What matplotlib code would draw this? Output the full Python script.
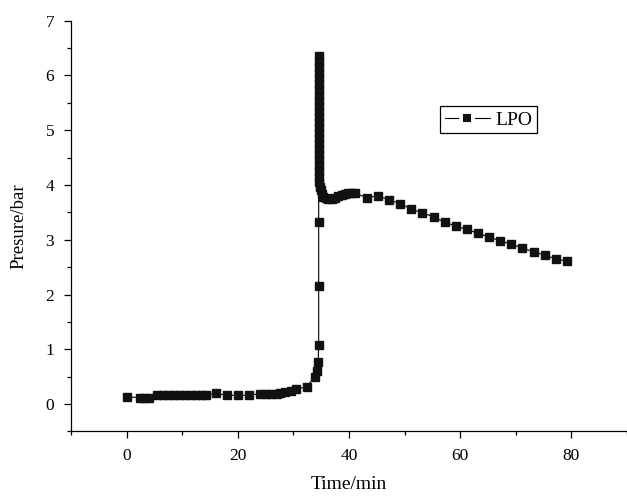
import matplotlib
matplotlib.use("Agg")
import matplotlib.pyplot as plt
from matplotlib.ticker import MultipleLocator
from matplotlib.lines import Line2D

plt.rcParams['font.family'] = ['Liberation Serif', 'DejaVu Serif']

# ---- data ----
time_early = [0.0, 2.5, 3.2, 4.0, 5.5, 6.5, 7.5, 8.5, 9.5, 10.5, 11.5, 12.5, 13.5, 14.2,
              16.0, 18.0, 20.0, 22.0, 24.0, 25.0, 26.0, 27.0, 27.6, 28.5, 29.5, 30.5,
              32.4, 33.9, 34.3, 34.45, 34.55]
pres_early = [0.13, 0.12, 0.12, 0.12, 0.16, 0.16, 0.16, 0.16, 0.16, 0.16, 0.16, 0.16, 0.16, 0.16,
              0.20, 0.16, 0.16, 0.16, 0.19, 0.19, 0.19, 0.19, 0.20, 0.22, 0.24, 0.27,
              0.32, 0.50, 0.60, 0.77, 1.07]

time_spike = [34.55, 34.55, 34.55, 34.55, 34.55, 34.55, 34.55, 34.55, 34.55, 34.55, 34.55,
              34.55, 34.55, 34.55, 34.55, 34.55, 34.55, 34.55, 34.55, 34.55, 34.55, 34.55,
              34.55, 34.55, 34.6, 34.65, 34.75, 34.9, 35.1, 35.4, 35.8, 36.3, 36.9, 37.5,
              38.1, 38.7, 39.3, 39.9, 40.5, 41.1]
pres_spike = [2.15, 3.33, 6.36, 6.25, 6.15, 6.05, 5.95, 5.85, 5.75, 5.65, 5.55,
              5.45, 5.35, 5.25, 5.15, 5.05, 4.95, 4.85, 4.75, 4.65, 4.55, 4.45,
              4.35, 4.25, 4.15, 4.06, 3.97, 3.90, 3.84, 3.79, 3.76, 3.74, 3.75, 3.77,
              3.80, 3.82, 3.84, 3.85, 3.85, 3.85]

time_late = [43.2, 45.2, 47.2, 49.2, 51.2, 53.2, 55.2, 57.2, 59.2, 61.2, 63.2, 65.2,
             67.2, 69.2, 71.2, 73.2, 75.2, 77.2, 79.2]
pres_late = [3.77, 3.80, 3.73, 3.66, 3.56, 3.49, 3.42, 3.32, 3.25, 3.19, 3.12, 3.05,
             2.98, 2.92, 2.85, 2.78, 2.72, 2.65, 2.61]

series_label = "LPO"
x_label = "Time/min"
y_label = "Presure/bar"

time = time_early + time_spike + time_late
pres = pres_early + pres_spike + pres_late

fig = plt.figure(figsize=(6.27, 4.97), dpi=100)
ax = fig.add_axes([0.1132, 0.1318, 0.8868, 0.8266])

ax.plot(time, pres, color='black', linewidth=0.8, marker='s', markersize=5.8,
        markerfacecolor='#111111', markeredgecolor='#111111')

ax.set_xlim(-10, 90)
ax.set_ylim(-0.5, 7)
ax.xaxis.set_major_locator(MultipleLocator(20))
ax.xaxis.set_minor_locator(MultipleLocator(10))
ax.yaxis.set_major_locator(MultipleLocator(1))
ax.yaxis.set_minor_locator(MultipleLocator(0.5))

for s in ['top', 'right']:
    ax.spines[s].set_visible(False)
for s in ['left', 'bottom']:
    ax.spines[s].set_linewidth(0.9)

ax.tick_params(which='major', direction='out', length=5, width=0.9, pad=7,
               labelsize=12.5, colors='black')
ax.tick_params(which='minor', direction='out', length=3, width=0.9)

ax.set_xlabel(x_label, fontsize=14, labelpad=8.5)
ax.set_ylabel(y_label, fontsize=13.5, labelpad=13)

# legend handle: line with marker separated by small gaps
handle = Line2D([], [], color='black', linewidth=0.8, marker='s', markersize=8.6,
                markerfacecolor='#111111', markeredgecolor='white', markeredgewidth=2.8)
leg = ax.legend([handle], [series_label], loc='upper left', bbox_to_anchor=(0.664, 0.792),
                borderaxespad=0, fontsize=14, frameon=True, fancybox=False, framealpha=1,
                edgecolor='black', handlelength=2.3, handletextpad=0.3,
                borderpad=0.25, numpoints=1)
leg.get_frame().set_linewidth(0.9)

fig.savefig("out.png", dpi=100)
